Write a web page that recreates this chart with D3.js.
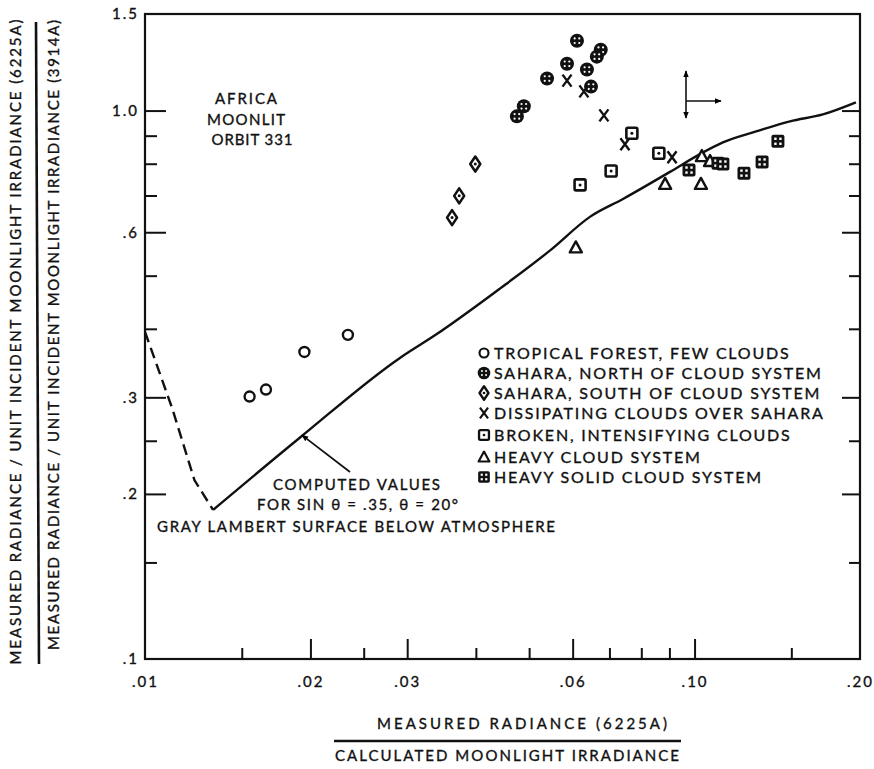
<!DOCTYPE html>
<html>
<head>
<meta charset="utf-8">
<script src="https://cdn.jsdelivr.net/npm/d3@7"></script>
<style>
body { margin: 0; background: #fff; }
text { font-family: Lato, "DejaVu Sans", sans-serif; fill: #111; stroke: #111; stroke-width: 0.35px; }
</style>
</head>
<body>
<script>
/*global d3*/

var width = 874, height = 769;

// ticks
var xLabelVals = [0.01, 0.02, 0.03, 0.06, 0.10, 0.20];
var xLabelText = [".01", ".02", ".03", ".06", ".10", ".20"];
var xMajorTicks = [0.02, 0.03, 0.06, 0.10];
var xMinorTicks = [0.015, 0.025, 0.04, 0.05, 0.07, 0.08, 0.09, 0.15];
var yLabelVals = [1.5, 1.0, 0.6, 0.3, 0.2, 0.1];
var yLabelText = ["1.5", "1.0", ".6", ".3", ".2", ".1"];
var yMajorTicks = [1.0, 0.6, 0.3, 0.2];
var yMinorTicks = [0.9, 0.8, 0.7, 0.5, 0.4, 0.25, 0.15];

// computed curve (solid) and its dashed extension
var curveX = [0.0133, 0.0192, 0.0291, 0.0338, 0.0443, 0.0546, 0.0645, 0.0741, 0.0902, 0.1023, 0.1126, 0.1299, 0.1492, 0.1712, 0.1966];
var curveY = [0.187, 0.254, 0.354, 0.390, 0.474, 0.556, 0.640, 0.690, 0.773, 0.833, 0.875, 0.917, 0.956, 0.984, 1.035];
var dashX = [0.0100, 0.0112, 0.0123, 0.0133];
var dashY = [0.395, 0.287, 0.212, 0.187];

// measured points
var forestX = [0.0155, 0.0166, 0.0195, 0.0234];
var forestY = [0.301, 0.310, 0.363, 0.390];
var northX = [0.0611, 0.0675, 0.0664, 0.0586, 0.0637, 0.0539, 0.0648, 0.0489, 0.0475];
var northY = [1.341, 1.291, 1.254, 1.217, 1.188, 1.144, 1.106, 1.018, 0.976];
var southX = [0.0362, 0.0373, 0.0399];
var southY = [0.638, 0.699, 0.799];
var dissX = [0.0586, 0.0629, 0.0684, 0.0747, 0.0910];
var dissY = [1.134, 1.084, 0.980, 0.868, 0.822];
var brokenX = [0.0769, 0.0861, 0.0705, 0.0619];
var brokenY = [0.909, 0.836, 0.776, 0.732];
var heavyX = [0.0608, 0.0884, 0.1027, 0.1031, 0.1067];
var heavyY = [0.563, 0.735, 0.735, 0.826, 0.809];
var solidX = [0.0977, 0.1103, 0.1126, 0.1230, 0.1327, 0.1418];
var solidY = [0.779, 0.802, 0.799, 0.769, 0.806, 0.879];

var seriesKinds = ["forest", "north", "south", "diss", "broken", "heavy", "solid"];
var seriesNames = [
  "TROPICAL FOREST, FEW CLOUDS",
  "SAHARA, NORTH OF CLOUD SYSTEM",
  "SAHARA, SOUTH OF CLOUD SYSTEM",
  "DISSIPATING CLOUDS OVER SAHARA",
  "BROKEN, INTENSIFYING CLOUDS",
  "HEAVY CLOUD SYSTEM",
  "HEAVY SOLID CLOUD SYSTEM"
];
var seriesX = [forestX, northX, southX, dissX, brokenX, heavyX, solidX];
var seriesY = [forestY, northY, southY, dissY, brokenY, heavyY, solidY];

var x = d3.scaleLog().domain([0.01, 0.20]).range([145, 860]);
var y = d3.scaleLog().domain([0.1, 1.5]).range([659, 14]);

var svg = d3.select("body")
    .append("svg")
    .attr("width", width)
    .attr("height", height);

var defs = svg.append("defs");
defs.append("marker")
    .attr("id", "Arrow")
    .attr("viewBox", "0 0 10 10")
    .attr("refX", 9)
    .attr("refY", 5)
    .attr("markerWidth", 7)
    .attr("markerHeight", 7)
    .attr("markerUnits", "userSpaceOnUse")
    .attr("orient", "auto")
    .append("path")
    .attr("d", "M 0 1 L 10 5 L 0 9 z");

var ink = "#111";

// frame
svg.append("rect")
    .attr("x", x(0.01)).attr("y", y(1.5))
    .attr("width", x(0.20) - x(0.01))
    .attr("height", y(0.1) - y(1.5))
    .attr("fill", "none")
    .attr("stroke", ink)
    .attr("stroke-width", 2.2);

function styleAxis(g) {
    g.select(".domain").remove();
    g.selectAll(".tick line").attr("stroke", ink).attr("stroke-width", 2);
    g.selectAll(".tick text")
        .attr("fill", ink)
        .style("font-family", "Lato, 'DejaVu Sans', sans-serif")
        .style("font-size", "15px")
        .style("letter-spacing", "2px");
}

// bottom axis
svg.append("g")
    .attr("transform", "translate(0," + y(0.1) + ")")
    .call(d3.axisBottom(x).tickValues(xMinorTicks).tickSize(-11).tickFormat(""))
    .call(styleAxis);
svg.append("g")
    .attr("transform", "translate(0," + y(0.1) + ")")
    .call(d3.axisBottom(x).tickValues(xMajorTicks).tickSize(-20).tickFormat(""))
    .call(styleAxis);
svg.append("g")
    .attr("transform", "translate(0," + y(0.1) + ")")
    .call(d3.axisBottom(x).tickValues(xLabelVals).tickSize(0).tickPadding(17)
        .tickFormat(function (d, i) { return xLabelText[i]; }))
    .call(styleAxis);

// left axis
svg.append("g")
    .attr("transform", "translate(" + x(0.01) + ",0)")
    .call(d3.axisLeft(y).tickValues(yMinorTicks).tickSize(-12).tickFormat(""))
    .call(styleAxis);
svg.append("g")
    .attr("transform", "translate(" + x(0.01) + ",0)")
    .call(d3.axisLeft(y).tickValues(yMajorTicks).tickSize(-21).tickFormat(""))
    .call(styleAxis);
svg.append("g")
    .attr("transform", "translate(" + x(0.01) + ",0)")
    .call(d3.axisLeft(y).tickValues(yLabelVals).tickSize(0).tickPadding(6)
        .tickFormat(function (d, i) { return yLabelText[i]; }))
    .call(styleAxis);

// right axis
svg.append("g")
    .attr("transform", "translate(" + x(0.20) + ",0)")
    .call(d3.axisRight(y).tickValues(yMinorTicks).tickSize(-11).tickFormat(""))
    .call(styleAxis);
svg.append("g")
    .attr("transform", "translate(" + x(0.20) + ",0)")
    .call(d3.axisRight(y).tickValues(yMajorTicks).tickSize(-18).tickFormat(""))
    .call(styleAxis);

// curves
var line = d3.line()
    .x(function (d) { return x(d[0]); })
    .y(function (d) { return y(d[1]); })
    .curve(d3.curveMonotoneX);

svg.append("path")
    .attr("d", line(d3.zip(curveX, curveY)))
    .attr("fill", "none")
    .attr("stroke", ink)
    .attr("stroke-width", 2.4);

svg.append("path")
    .attr("d", line.curve(d3.curveLinear)(d3.zip(dashX, dashY)))
    .attr("fill", "none")
    .attr("stroke", ink)
    .attr("stroke-width", 2.4)
    .attr("stroke-dasharray", "11,6");

// symbols
function drawSymbol(g, kind) {
    if (kind === "forest") {
        g.append("circle").attr("r", 5).attr("fill", "#fff")
            .attr("stroke", ink).attr("stroke-width", 2.4);
    } else if (kind === "north") {
        g.append("circle").attr("r", 7).attr("fill", ink);
        [[-2.3, -2.3], [2.3, -2.3], [-2.3, 2.3], [2.3, 2.3]].forEach(function (p) {
            g.append("circle").attr("cx", p[0]).attr("cy", p[1]).attr("r", 1.1).attr("fill", "#fff");
        });
    } else if (kind === "south") {
        g.append("path").attr("d", "M0,-7.5 L5,0 L0,7.5 L-5,0 Z")
            .attr("fill", "#fff").attr("stroke", ink).attr("stroke-width", 2.6)
            .attr("stroke-linejoin", "round");
        g.append("circle").attr("r", 1.5).attr("fill", ink);
    } else if (kind === "diss") {
        g.append("path").attr("d", "M-4.5,-6 L4.5,6 M4.5,-6 L-4.5,6")
            .attr("stroke", ink).attr("stroke-width", 2.4).attr("fill", "none");
    } else if (kind === "broken") {
        g.append("rect").attr("x", -5.5).attr("y", -5.5).attr("width", 11).attr("height", 11)
            .attr("rx", 1.5).attr("fill", "#fff").attr("stroke", ink).attr("stroke-width", 2.6);
        g.append("circle").attr("r", 1.5).attr("fill", ink);
    } else if (kind === "heavy") {
        g.append("path").attr("d", "M0,-6 L6,5 L-6,5 Z")
            .attr("fill", "#fff").attr("stroke", ink).attr("stroke-width", 2.4)
            .attr("stroke-linejoin", "round");
    } else if (kind === "solid") {
        g.append("rect").attr("x", -6.5).attr("y", -6.5).attr("width", 13).attr("height", 13)
            .attr("rx", 2).attr("fill", ink);
        [[-2.5, -2.5], [2.5, -2.5], [-2.5, 2.5], [2.5, 2.5]].forEach(function (p) {
            g.append("rect").attr("x", p[0] - 1.2).attr("y", p[1] - 1.2)
                .attr("width", 2.4).attr("height", 2.4).attr("fill", "#fff");
        });
    }
}

seriesKinds.forEach(function (kind, i) {
    var pts = d3.zip(seriesX[i], seriesY[i]);
    svg.append("g").selectAll("g")
        .data(pts)
        .enter()
        .append("g")
        .attr("transform", function (d) { return "translate(" + x(d[0]) + "," + y(d[1]) + ")"; })
        .each(function () { drawSymbol(d3.select(this), kind); });
});

// legend
var legendRows = [353, 373, 393, 413, 435, 457, 477];
var legend = svg.append("g").attr("transform", "translate(484,0)");
seriesKinds.forEach(function (kind, i) {
    var row = legend.append("g").attr("transform", "translate(0," + legendRows[i] + ")");
    drawSymbol(row.append("g").attr("transform", "scale(0.9)"), kind);
    row.append("text")
        .attr("x", 10)
        .attr("dy", "0.36em")
        .style("font-size", "16px")
        .style("letter-spacing", "1.8px")
        .text(seriesNames[i]);
});

// annotations
function label(txt, px, py, len, anchor) {
    var t = svg.append("text")
        .attr("x", px).attr("y", py).attr("dy", "0.36em")
        .attr("text-anchor", anchor || "start")
        .style("font-size", "15px")
        .text(txt);
    if (len) t.attr("textLength", len).attr("lengthAdjust", "spacing");
    return t;
}
label("AFRICA", 246, 99, 62, "middle");
label("MOONLIT", 246, 120, 78, "middle");
label("ORBIT 331", 252, 140, 81, "middle");
label("COMPUTED VALUES", 273, 485, 167);
label("FOR SIN \u03B8 = .35, \u03B8 = 20\u00B0", 257, 505, 201);
label("GRAY LAMBERT SURFACE BELOW ATMOSPHERE", 157, 527, 398);

// pointer to the curve
svg.append("line")
    .attr("x1", 350).attr("y1", 472)
    .attr("x2", x(0.0193)).attr("y2", y(0.256))
    .attr("stroke", ink).attr("stroke-width", 1.8)
    .attr("marker-end", "url(#Arrow)");

// small direction sign
var sign = svg.append("g").attr("stroke", ink).attr("stroke-width", 1.6);
sign.append("line").attr("x1", 686).attr("y1", 101).attr("x2", 686).attr("y2", 71)
    .attr("marker-end", "url(#Arrow)");
sign.append("line").attr("x1", 686).attr("y1", 101).attr("x2", 686).attr("y2", 118)
    .attr("marker-end", "url(#Arrow)");
sign.append("line").attr("x1", 686).attr("y1", 101).attr("x2", 721).attr("y2", 101)
    .attr("marker-end", "url(#Arrow)");

// axis titles
label("MEASURED RADIANCE (6225A)", 522, 724, 290, "middle");
svg.append("line").attr("x1", 334).attr("x2", 681).attr("y1", 741).attr("y2", 741)
    .attr("stroke", ink).attr("stroke-width", 2.4);
label("CALCULATED MOONLIGHT IRRADIANCE", 507, 756, 344, "middle");

svg.append("text")
    .attr("transform", "translate(16,342) rotate(-90)")
    .attr("dy", "0.36em")
    .attr("text-anchor", "middle")
    .attr("textLength", 645)
    .attr("lengthAdjust", "spacing")
    .style("font-size", "15px")
    .text("MEASURED RADIANCE / UNIT INCIDENT MOONLIGHT IRRADIANCE (6225A)");
svg.append("line").attr("x1", 36).attr("x2", 39).attr("y1", 22).attr("y2", 664)
    .attr("stroke", ink).attr("stroke-width", 2.6);
svg.append("text")
    .attr("transform", "translate(54,335) rotate(-90)")
    .attr("dy", "0.36em")
    .attr("text-anchor", "middle")
    .attr("textLength", 630)
    .attr("lengthAdjust", "spacing")
    .style("font-size", "15px")
    .text("MEASURED RADIANCE / UNIT INCIDENT MOONLIGHT IRRADIANCE (3914A)");
</script>
</body>
</html>
